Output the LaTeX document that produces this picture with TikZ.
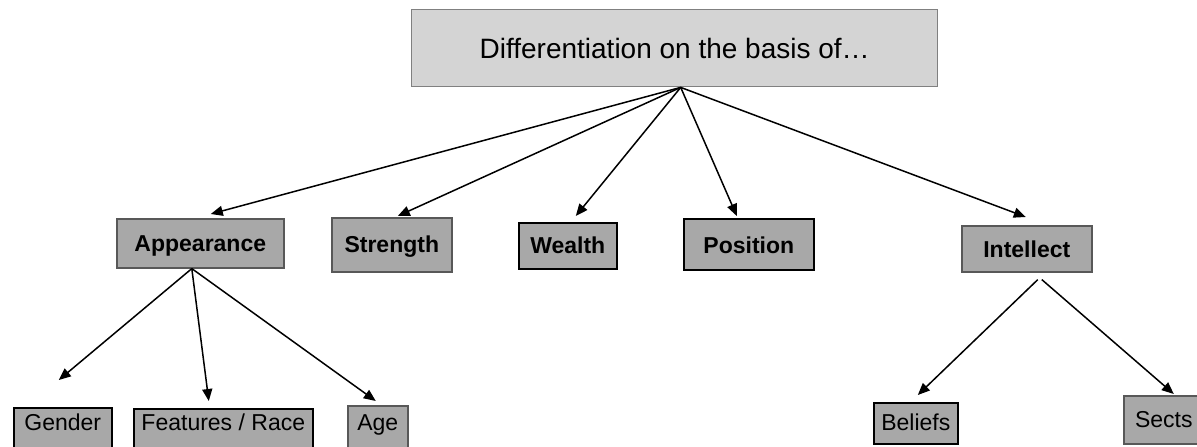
\documentclass[tikz,border=0pt]{standalone}
\usepackage{fontspec}
\setmainfont{Liberation Sans}
\usetikzlibrary{arrows.meta}
\definecolor{headfill}{RGB}{212,212,212}
\definecolor{headline}{RGB}{128,128,128}
\definecolor{boxfill}{RGB}{168,168,168}
\definecolor{boxline}{RGB}{88,88,88}
\begin{document}
\begin{tikzpicture}[x=1pt,y=-1pt,
  % size = width, height above baseline, depth below baseline
  size/.style n args={3}{minimum width=#1, text height=#2, text depth=#3},
  base/.style={anchor=north west, inner xsep=0pt, inner ysep=0pt,
    line width=1.6pt, fill=boxfill, font=\fontsize{23}{27}\selectfont},
  headbox/.style={base, fill=headfill, draw=headline, line width=1.4pt,
    font=\fontsize{28}{32}\selectfont},
  greybox/.style={base, draw=boxline},
  darkbox/.style={base, draw=black},
  strong/.style={font=\fontsize{23}{27}\selectfont\bfseries},
  link/.style={line width=1.5pt, -{Triangle[length=12pt,width=10pt]}}
]
\useasboundingbox (0,0) rectangle (1197,447);
\clip (0,0) rectangle (1197,447);

% root
\node[headbox, size={526}{49}{28}] (head) at (411,9) {Differentiation on the basis of…};

% first level
\node[greybox, strong, size={167}{33}{16}] (app) at (116,218) {Appearance};
\node[greybox, strong, size={120}{35}{19}] (str) at (331,217) {Strength};
\node[darkbox, strong, size={98}{31}{15}]  (wea) at (518,222) {Wealth};
\node[darkbox, strong, size={130}{35}{16}] (pos) at (683,218) {Position};
\node[greybox, strong, size={130}{32}{14}] (int) at (961,225) {Intellect};

% second level
\node[darkbox, size={98}{23}{40}]  (gen) at (13,407)  {Gender};
\node[darkbox, size={179}{22}{40}] (fea) at (133,408) {Features / Race};
\node[greybox, size={60}{25}{40}]  (age) at (347,405) {Age};
\node[darkbox, size={84}{28}{13}]  (bel) at (873,402) {Beliefs};
\node[greybox, size={80}{32}{16}]  (sec) at (1123,395) {Sects};

% connectors from the root
\coordinate (hub) at ([xshift=6pt]head.south);
\draw[link] (hub) -- ([xshift=10.5pt,yshift=4pt]app.north);
\draw[link] (hub) -- ([xshift=6pt,yshift=1pt]str.north);
\draw[link] (hub) -- ([xshift=8pt,yshift=6pt]wea.north);
\draw[link] (hub) -- ([xshift=-12pt,yshift=2pt]pos.north);
\draw[link] (hub) -- ([xshift=-1pt,yshift=8pt]int.north);

% connectors from Appearance
\coordinate (appfoot) at ([xshift=-8.5pt]app.south);
\draw[link] (appfoot) -- ([xshift=-4pt,yshift=27pt]gen.north);
\draw[link] (appfoot) -- ([xshift=-14.5pt,yshift=7pt]fea.north);
\draw[link] (appfoot) -- ([xshift=-2pt,yshift=4pt]age.north);

% connectors from Intellect
\draw[link] ([xshift=11pt,yshift=-7pt]int.south) -- ([xshift=2pt,yshift=7pt]bel.north);
\draw[link] ([xshift=15pt,yshift=-7pt]int.south) -- ([xshift=10pt,yshift=1pt]sec.north);
\end{tikzpicture}
\end{document}
